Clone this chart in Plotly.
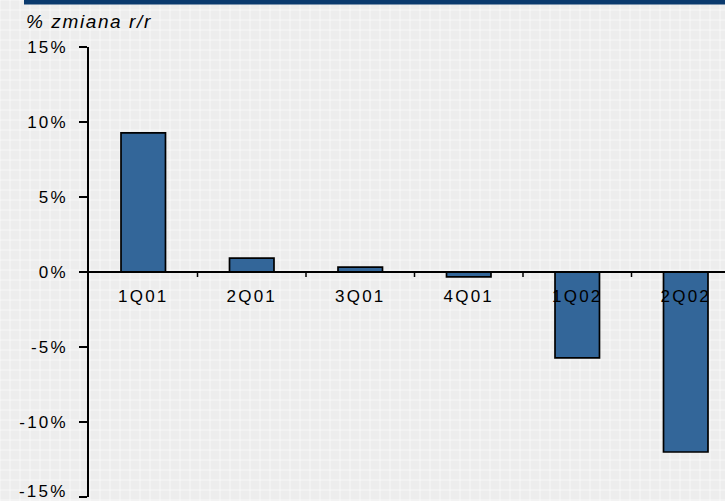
import plotly.graph_objects as go

categories = ["1Q01", "2Q01", "3Q01", "4Q01", "1Q02", "2Q02"]
values = [9.27, 0.93, 0.33, -0.33, -5.73, -12.0]
y_ticks = [15, 10, 5, 0, -5, -10, -15]
y_tick_labels = ["15%", "10%", "5%", "0%", "-5%", "-10%", ""]
bottom_label = "-15%"

W, H = 725, 501
L, R, T, B = 89, 0, 47, 4
pw, ph = W - L - R, H - T - B

def px_x(x):
    return (x - L) / pw

def px_y(y):
    return (H - B - y) / ph

def spaced(s, sp=2.2):
    return '<span style="letter-spacing:%.1fpx">' % sp + s + '</span>'

fig = go.Figure()
fig.add_trace(go.Bar(
    x=list(range(len(categories))), y=values, width=0.41,
    marker=dict(color="#336699", line=dict(color="#000000", width=1.7)),
))

shapes = []
for xx in range(0, W, 10):
    shapes.append(dict(type="line", xref="paper", yref="paper", x0=px_x(xx), x1=px_x(xx),
                       y0=px_y(0), y1=px_y(H), line=dict(color="white", width=1), opacity=0.6, layer="below"))
for yy in range(0, H, 10):
    shapes.append(dict(type="line", xref="paper", yref="paper", x0=px_x(0), x1=px_x(W),
                       y0=px_y(yy), y1=px_y(yy), line=dict(color="white", width=1), opacity=0.6, layer="below"))
shapes.append(dict(type="rect", xref="paper", yref="paper", x0=px_x(24), x1=px_x(W),
                   y0=px_y(4.5), y1=px_y(-2), fillcolor="#0a3a6e", line=dict(width=0)))

fig.update_layout(
    width=W, height=H,
    margin=dict(l=L, r=R, t=T, b=B, autoexpand=False),
    paper_bgcolor="#ededed", plot_bgcolor="rgba(0,0,0,0)",
    showlegend=False,
    font=dict(family="Liberation Sans, Arial, sans-serif", size=17, color="#000000"),
    shapes=shapes,
    xaxis=dict(
        range=[-0.5, 5.5 - 15 / 108.5],
        tickmode="array", tickvals=list(range(len(categories))),
        ticktext=[spaced(c) for c in categories],
        showgrid=False, zeroline=False, automargin=False,
        showline=True, linecolor="#000000", linewidth=1.5,
        anchor="free", position=0.5,
        ticks="",
        tickfont=dict(size=17), ticklabelstandoff=9,
    ),
    yaxis=dict(
        range=[-15, 15],
        tickmode="array", tickvals=y_ticks, ticktext=[spaced(t) for t in y_tick_labels],
        showgrid=False, zeroline=False, automargin=False,
        showline=True, linecolor="#000000", linewidth=1.5,
        ticks="outside", ticklen=8, tickwidth=1.5, tickcolor="#000000",
        tickfont=dict(size=17), ticklabelstandoff=8,
    ),
    annotations=[
        dict(text="<i>" + spaced("% zmiana r/r", 1.6) + "</i>", xref="paper", yref="paper",
             x=px_x(24), y=px_y(22), xanchor="left", yanchor="middle",
             showarrow=False, font=dict(size=19, color="#000000")),
        dict(text=spaced(bottom_label), xref="paper", yref="paper",
             x=px_x(70), y=px_y(491), xanchor="right", yanchor="middle",
             showarrow=False, font=dict(size=17, color="#000000")),
    ],
)

for i in range(len(categories) - 1):
    fig.add_shape(type="line", xref="x", yref="paper",
                  x0=i + 0.5, x1=i + 0.5, y0=0.5, y1=px_y(272 + 5),
                  line=dict(color="#000000", width=1.5))

fig.write_html("out.html")
